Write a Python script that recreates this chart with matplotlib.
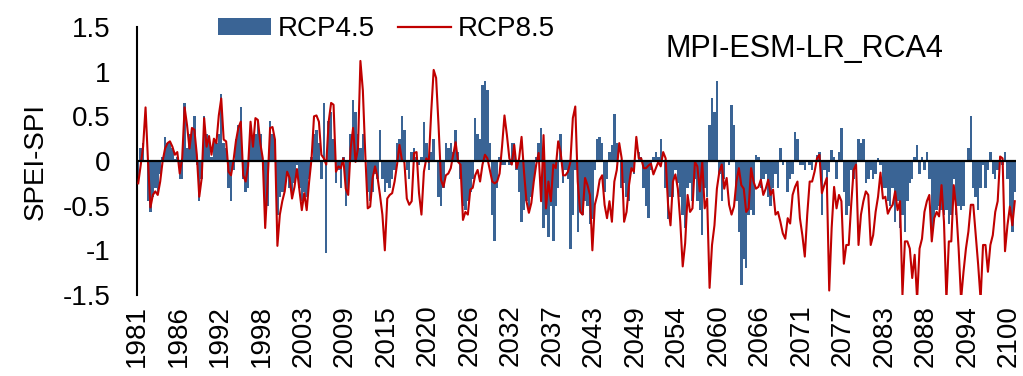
import numpy as np
import matplotlib
matplotlib.use("Agg")
import matplotlib.pyplot as plt
from matplotlib.patches import Patch
from matplotlib.lines import Line2D

plt.rcParams['font.family'] = ['Liberation Sans', 'DejaVu Sans']

# monthly series Jan 1981 .. Dec 2100, values read every 4th month
step = 4
n_months = 1440

rcp45 = [
    # 1981-1995
    -0.2, 0.15, 0.2, 0.0, -0.45, -0.57, -0.4, -0.3, -0.35, -0.15, 0.05, 0.27, 0.2, 0.22, 0.15,
    0.02, 0.05, -0.2, -0.2, 0.65, 0.15, 0.3, 0.35, 0.5, -0.05, -0.45, -0.2, 0.5, 0.3, 0.25,
    0.05, 0.25, 0.2, 0.3, 0.75, 0.2, 0.15, -0.3, -0.45, -0.1, 0.25, 0.4, 0.6, -0.2, -0.35,
    # 1996-2010
    -0.3, 0.35, 0.2, 0.3, 0.45, 0.3, -0.1, -0.6, -0.5, 0.45, 0.3, 0.2, -0.6, -0.4, -0.35,
    -0.3, -0.15, -0.3, -0.4, -0.25, -0.05, -0.3, -0.45, -0.35, -0.4, -0.2, 0.05, 0.3, 0.35, 0.2,
    -0.2, 0.65, -1.03, 0.45, 0.55, 0.25, -0.25, -0.1, -0.3, 0.05, -0.5, -0.35, 0.3, 0.68,
    # 2010-2025
    0.55, 0.3, 0.15, 0.3, 0.0, -0.35, -0.45, -0.35, -0.15, -0.2, 0.35, -0.2, -0.35, -0.25, -0.3,
    -0.2, -0.1, 0.2, 0.25, 0.5, 0.35, -0.1, -0.2, 0.1, 0.15, 0.05, -0.05, 0.05, 0.44, 0.2,
    -0.1, 0.1, 0.25, 0.0, -0.4, -0.5, -0.3, 0.2, 0.15, 0.2, 0.1, 0.35, 0.1, -0.2, -0.5, -0.55,
    # 2026-2040
    -0.45, -0.35, -0.2, 0.48, 0.3, 0.25, 0.85, 0.9, 0.8, 0.2, -0.6, -0.9, -0.3, 0.05, -0.05,
    -0.05, 0.0, -0.05, 0.2, 0.2, -0.1, -0.35, -0.68, -0.55, -0.45, -0.55, -0.4, -0.2, 0.05, 0.2,
    0.37, -0.75, -0.6, -0.85, -0.5, -0.9, -0.5, -0.3, 0.3, -0.25, -0.1, -0.2, -0.98, -0.6, -0.1,
    # 2041-2055
    -0.8, -0.55, -0.6, -0.45, -0.5, -0.7, -0.65, -0.1, 0.25, 0.27, 0.2, -0.35, -0.2, 0.1, 0.18,
    0.53, 0.2, 0.0, -0.3, -0.25, -0.4, -0.45, -0.1, -0.15, 0.0, 0.1, 0.05, -0.3, -0.5, -0.64,
    -0.1, 0.05, 0.1, 0.05, 0.25, 0.0, -0.3, -0.65, -0.4, -0.4, -0.1, -0.25, -0.4, -0.6, -0.75,
    # 2056-2070
    -0.3, -0.25, -0.45, -0.2, -0.45, -0.55, -0.83, -0.3, -0.4, 0.4, 0.7, 0.55, 0.9, -0.15, -0.45,
    -0.2, 0.0, -0.05, 0.63, 0.4, -0.45, -0.8, -1.39, -1.1, -1.2, -0.6, -0.55, -0.6, 0.07, 0.05,
    -0.3, -0.2, -0.15, -0.4, -0.5, -0.3, -0.15, -0.3, 0.14, -0.05, 0.0, -0.35, -0.2, -0.15, 0.33,
    # 2071-2085
    0.25, -0.05, -0.05, -0.1, 0.0, -0.05, -0.1, 0.0, 0.07, 0.1, -0.6, -0.1, -0.3, -0.12, 0.12,
    0.05, -0.2, 0.1, 0.37, -0.35, -0.6, -0.5, -0.1, -0.2, -0.05, 0.25, 0.2, 0.25, -0.25, -0.2,
    -0.1, -0.2, -0.15, 0.03, -0.05, -0.3, -0.3, -0.45, -0.5, -0.3, -0.68, -0.45, -0.75, -0.6, -0.8,
    # 2086-2100
    -0.45, -0.25, -0.2, 0.05, 0.18, -0.15, 0.05, -0.1, 0.1, -0.2, -0.85, -0.65, -0.55, -0.5, -0.55,
    -0.6, -0.55, -0.7, -0.6, -0.2, -0.6, -0.5, -0.55, -0.5, 0.0, 0.15, 0.5, -0.3, -0.4, -0.55,
    -0.3, -0.05, -0.3, -0.1, 0.1, -0.15, -0.2, -0.1, 0.05, -0.05, 0.1, -0.2, -0.5, -0.8, -0.35,
]

rcp85 = [
    -0.25, -0.05, 0.16, 0.6, 0.0, -0.52, -0.38, -0.34, -0.38, -0.23, 0.0, 0.14, 0.2, 0.22, 0.16,
    0.07, 0.1, -0.14, 0.03, 0.6, 0.4, 0.14, 0.37, 0.35, 0.07, -0.4, -0.19, 0.48, 0.16, 0.28,
    0.07, 0.25, 0.2, 0.51, 0.7, 0.24, 0.22, -0.12, -0.16, 0.0, 0.22, 0.37, 0.44, -0.16, -0.23,
    -0.06, 0.44, 0.16, 0.48, 0.46, 0.2, 0.03, -0.75, -0.23, 0.37, 0.38, 0.24, -0.95, -0.6, -0.45,
    -0.34, -0.12, -0.19, -0.42, -0.29, -0.09, -0.32, -0.55, -0.36, -0.55, -0.23, 0.03, 0.5, 0.51, 0.44,
    0.07, 0.03, -0.04, 0.44, 0.65, 0.63, -0.12, -0.06, -0.08, 0.03, -0.31, -0.38, 0.14, 0.37,
    -0.01, 0.14, 1.12, 0.79, 0.07, -0.53, -0.51, -0.19, -0.06, -0.18, -0.38, -0.6, -1.0, -0.42, -0.38,
    -0.36, -0.23, -0.04, 0.18, 0.01, -0.01, -0.42, -0.49, -0.45, 0.09, 0.1, -0.36, -0.6, -0.12, 0.03,
    -0.01, 0.55, 1.02, 0.93, 0.4, -0.21, -0.29, -0.16, -0.14, -0.08, 0.07, 0.21, -0.01, -0.04, -0.66, -0.57,
    -0.6, -0.32, -0.3, -0.16, -0.1, -0.23, -0.04, 0.07, 0.03, -0.1, -0.23, -0.25, -0.23, -0.14, 0.16,
    0.51, 0.29, 0.03, -0.04, 0.18, -0.08, 0.03, 0.27, -0.12, -0.45, -0.58, -0.47, -0.23, -0.04, 0.09,
    -0.45, 0.29, -0.53, -0.23, -0.45, -0.04, -0.08, 0.22, 0.1, -0.16, -0.16, -0.12, -0.01, 0.48, 0.61,
    -0.23, -0.57, -0.6, -0.19, -0.27, -0.38, -1.0, -0.49, -0.38, -0.21, -0.16, -0.49, -0.64, -0.45, -0.68,
    -0.23, -0.1, 0.2, 0.03, -0.68, -0.57, -0.27, -0.08, -0.12, 0.27, 0.03, 0.03, -0.08, -0.08, -0.05,
    -0.03, -0.15, -0.08, -0.01, -0.06, 0.1, 0.03, -0.49, -0.72, -0.23, -0.15, -0.31, -0.68, -1.18, -0.92,
    -0.38, -0.57, -0.53, -0.01, -0.06, -0.34, -0.01, -0.53, -0.42, -1.42, -0.94, -0.72, -0.31, -0.12, -0.04,
    -0.31, -0.19, -0.49, -0.6, -0.51, -0.23, -0.08, -0.27, -0.31, -0.57, -0.53, -0.08, -0.23, -0.31, -0.29,
    -0.21, -0.38, -0.31, -0.21, -0.38, -0.32, -0.6, -0.57, -0.68, -0.81, -0.87, -0.64, -0.7, -0.38, -0.29,
    -0.23, -0.64, -0.83, -1.07, -0.6, -0.23, -0.23, -0.12, 0.03, 0.07, -0.36, -0.27, -0.19, -1.45, -0.75,
    -0.29, -0.53, -0.38, -0.45, -1.15, -0.94, -0.94, -0.49, -0.1, -0.04, -0.94, -0.6, -0.45, -0.34, -0.38,
    -0.94, -0.83, -0.57, -0.4, -0.13, -0.42, -0.4, -0.59, -0.53, -0.49, -0.34, -0.55, -0.45, -1.5, -0.9,
    -0.9, -0.98, -1.31, -1.05, -1.55, -0.98, -0.87, -0.57, -0.45, -0.38, -0.9, -0.64, -0.57, -0.62, -0.27,
    -0.68, -1.55, -0.9, -0.9, -0.27, -0.53, -0.98, -1.55, -1.24, -0.98, -0.79, -0.49, -0.49, -0.83, -1.16,
    -1.55, -0.94, -0.94, -1.24, -0.94, -0.83, -0.57, -0.45, 0.05, 0.03, -1.01, -0.72, -0.51, -0.72, -0.45,
]

tick_labels = ['1981', '1986', '1992', '1998', '2003', '2009', '2015', '2020', '2026', '2032',
               '2037', '2043', '2049', '2054', '2060', '2066', '2071', '2077', '2083', '2088',
               '2094', '2100']
tick_every = 68
y_ticks = [-1.5, -1, -0.5, 0, 0.5, 1, 1.5]
y_tick_labels = ['-1.5', '-1', '-0.5', '0', '0.5', '1', '1.5']

blue = '#3A6495'
red = '#C00000'

W, H = 1023, 376
fig = plt.figure(figsize=(W / 100, H / 100), dpi=100)
ax = fig.add_axes([137 / W, 1 - 295 / H, (1016 - 137) / W, (295 - 27) / H])

x = np.arange(len(rcp85)) * step + step / 2
ax.bar(x, rcp45, width=step, color=blue, linewidth=0, zorder=2)
ax.plot(x, rcp85, color=red, linewidth=1.5, zorder=3)
ax.axhline(0, color='black', linewidth=1.6, zorder=4)

ax.set_xlim(0, n_months)
ax.set_ylim(-1.5, 1.5)
ax.set_yticks(y_ticks)
ax.set_yticklabels(y_tick_labels, fontsize=20)
ax.set_xticks(np.arange(len(tick_labels)) * tick_every + 0.5)
ax.set_xticklabels(tick_labels, rotation=90, fontsize=20)
ax.tick_params(axis='y', length=0, pad=19)
ax.tick_params(axis='x', length=0, pad=7)

for s in ['top', 'right', 'bottom']:
    ax.spines[s].set_visible(False)
ax.spines['left'].set_linewidth(1.5)
ax.spines['left'].set_color('black')

ax.set_ylabel('SPEI-SPI', fontsize=20, labelpad=10)

handles = [Patch(facecolor=blue, edgecolor='none'), Line2D([0], [0], color=red, linewidth=1.6)]
fig.legend(handles, ['RCP4.5', 'RCP8.5'], loc='upper left', bbox_to_anchor=(218 / W, 1 - 16 / H),
           ncol=2, frameon=False, fontsize=20, handlelength=1.9, handleheight=0.55,
           handletextpad=0.25, columnspacing=0.85, borderpad=0, borderaxespad=0)

fig.text(804 / W, 1 - 49 / H, 'MPI-ESM-LR_RCA4', fontsize=22, ha='center', va='center')

fig.savefig('out.png', dpi=100)
